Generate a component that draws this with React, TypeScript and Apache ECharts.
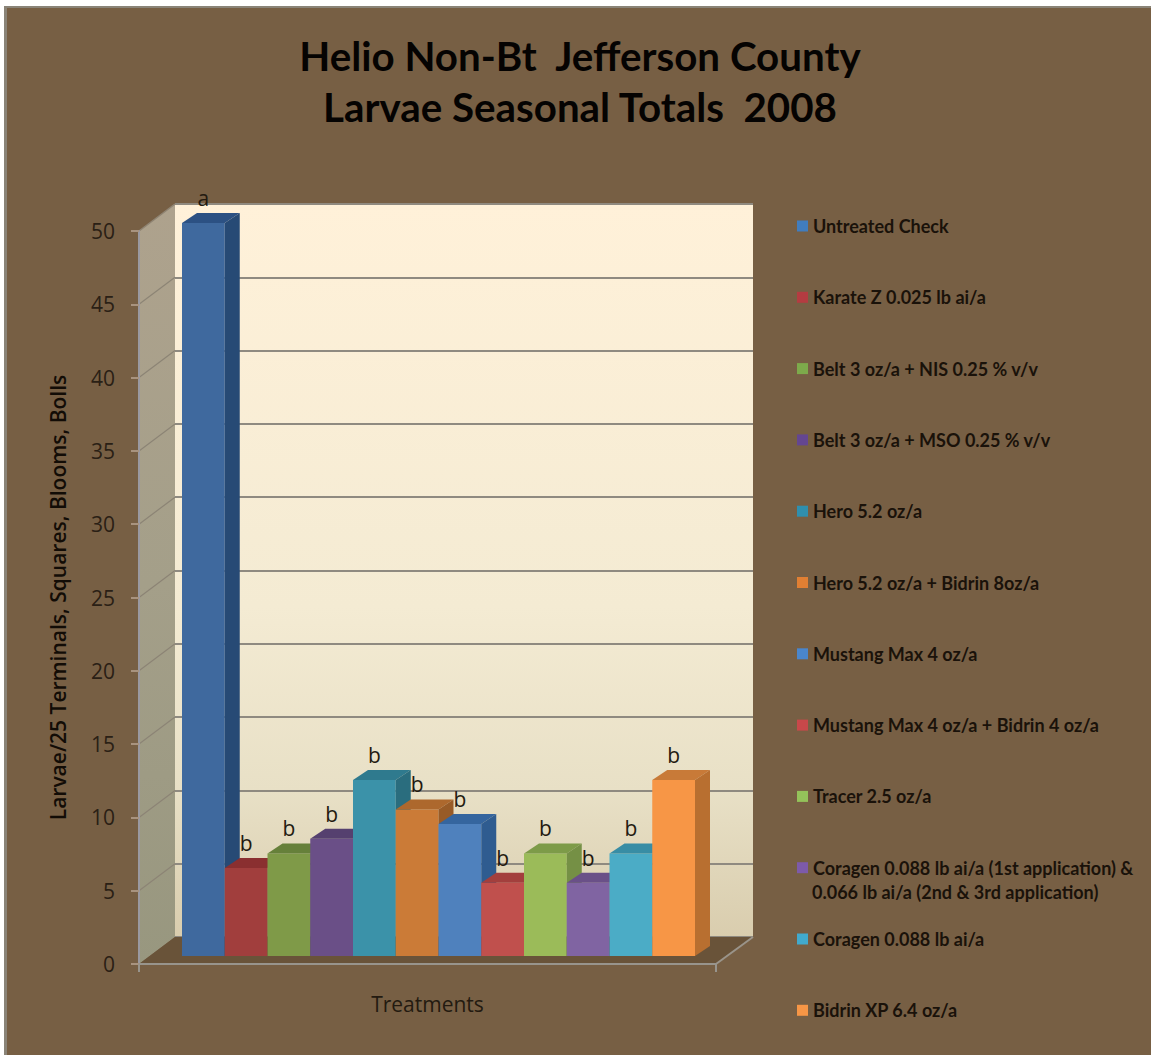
import React, { useEffect, useRef } from "react";
import * as echarts from "echarts";

const titleText = "Helio Non-Bt  Jefferson County\nLarvae Seasonal Totals  2008";
const yAxisName = "Larvae/25 Terminals, Squares, Blooms, Bolls";
const xAxisName = "Treatments";
const treatments = [
  "Untreated Check",
  "Karate Z 0.025 lb ai/a",
  "Belt 3 oz/a + NIS 0.25 % v/v",
  "Belt 3 oz/a + MSO 0.25 % v/v",
  "Hero 5.2 oz/a",
  "Hero 5.2 oz/a + Bidrin 8oz/a",
  "Mustang Max 4 oz/a",
  "Mustang Max 4 oz/a + Bidrin 4 oz/a",
  "Tracer 2.5 oz/a",
  "Coragen 0.088 lb ai/a (1st application) &\n0.066 lb ai/a (2nd & 3rd application)",
  "Coragen 0.088 lb ai/a",
  "Bidrin XP 6.4 oz/a",
];
const values = [50, 6, 7, 8, 12, 10, 9, 5, 7, 5, 7, 12];
const letters = ["a", "b", "b", "b", "b", "b", "b", "b", "b", "b", "b", "b"];
const yTicks = [0, 5, 10, 15, 20, 25, 30, 35, 40, 45, 50];
const frontColors = ["#3F699E", "#A13E3D", "#7F9A48", "#6A4F87", "#3B92A9", "#CB7B37", "#4F81BD", "#C0504D", "#9BBB59", "#8064A2", "#4BACC6", "#F79646"];
const sideColors = ["#274A75", "#7A2C2B", "#5F7335", "#4E3A64", "#2A6D7E", "#985B27", "#2F5C90", "#943A38", "#759045", "#604A7B", "#338196", "#B86F30"];
const topColors = ["#2C5183", "#8A2F30", "#66803A", "#55406F", "#2F7A8E", "#AD682D", "#35659E", "#A33F3D", "#7D9B48", "#6A5088", "#388DA5", "#C87A38"];
const legendColors = ["#417DBE", "#B43C41", "#7DAA4B", "#644691", "#2F8FAE", "#E07F33", "#4A86CC", "#C8484A", "#94C25A", "#7D5AAA", "#41AACD", "#F79646"];

const BG = "#775F44";
const DEPTH_X = 36;
const DEPTH_Y = 27;
const TOP_X = 15;
const TOP_Y = 10;

const poly = (points: number[][], style: any) => ({ type: "polygon", shape: { points }, style });

const renderWall = (params: any, api: any) => {
  const tick = api.value(0);
  const [, y] = api.coord([0, tick]);
  const cs = params.coordSys;
  const children: any[] = [];
  if (params.dataIndex === 0) {
    const left = cs.x;
    const right = cs.x + cs.width;
    const top = cs.y;
    const bottom = cs.y + cs.height;
    children.push(
      poly(
        [[left, top], [left + DEPTH_X, top - DEPTH_Y], [left + DEPTH_X, bottom - DEPTH_Y], [left, bottom]],
        {
          fill: new echarts.graphic.LinearGradient(0, 0, 0, 1, [
            { offset: 0, color: "#AEA28D" },
            { offset: 0.5, color: "#A49F89" },
            { offset: 1, color: "#98977F" },
          ]),
        }
      ),
      poly(
        [[left, bottom], [right, bottom], [right + DEPTH_X + 1, bottom - DEPTH_Y], [left + DEPTH_X, bottom - DEPTH_Y]],
        { fill: "#695339" }
      ),
      {
        type: "line",
        shape: { x1: right, y1: bottom, x2: right + DEPTH_X + 1, y2: bottom - DEPTH_Y },
        style: { stroke: "#9A948A", lineWidth: 2 },
      },
      {
        type: "line",
        shape: { x1: left, y1: top, x2: left + DEPTH_X, y2: top - DEPTH_Y },
        style: { stroke: "#8F8473", lineWidth: 1.5 },
      }
    );
  }
  const cx = cs.x;
  if (tick > 0 && tick < 50) {
    children.push({
      type: "line",
      shape: { x1: cx, y1: y, x2: cx + DEPTH_X, y2: y - DEPTH_Y },
      style: { stroke: "#8C8475", lineWidth: 1.2 },
    });
  }
  return { type: "group", children };
};

const renderBar = (i: number) => (_params: any, api: any) => {
  const v = api.value(1);
  const [cx, y] = api.coord([i, v]);
  const [, base] = api.coord([i, 0]);
  const w = api.size([1, 0])[0];
  const x0 = cx - w / 2;
  const x1 = cx + w / 2;
  return {
    type: "group",
    children: [
      { type: "rect", shape: { x: x0, y, width: w, height: base - y }, style: { fill: frontColors[i] } },
      poly([[x0, y], [x1, y], [x1 + TOP_X, y - TOP_Y], [x0 + TOP_X, y - TOP_Y]], { fill: topColors[i] }),
      poly([[x1, y], [x1 + TOP_X, y - TOP_Y], [x1 + TOP_X, base - TOP_Y], [x1, base]], { fill: sideColors[i] }),
      {
        type: "text",
        x: cx,
        y: y - 25,
        style: {
          text: letters[i],
          fontFamily: "Open Sans",
          fontSize: 21,
          fill: "#231A10",
          align: "center",
          verticalAlign: "middle",
        },
      },
    ],
  };
};

const legendFirstLine = (name: string) => name.split("\n")[0];

export default function App() {
  const ref = useRef<HTMLDivElement>(null);
  useEffect(() => {
    const chart = echarts.init(ref.current!, null, { renderer: "svg" });
    const secondLine = treatments[9].split("\n")[1];
    chart.setOption({
      animation: false,
      backgroundColor: "#FFFFFF",
      title: {
        text: titleText,
        left: 575,
        top: 25,
        textAlign: "center",
        textStyle: { fontFamily: "Lato", fontWeight: "bold", fontSize: 40.3, lineHeight: 51, color: "#050302" },
      },
      legend: {
        orient: "vertical",
        left: 797,
        top: 217,
        height: 830,
        padding: 0,
        icon: "rect",
        itemWidth: 11,
        itemHeight: 11,
        itemGap: 53.3,
        selectedMode: false,
        data: treatments,
        formatter: legendFirstLine,
        textStyle: { fontFamily: "Lato", fontSize: 18, fontWeight: "bold", lineHeight: 18, color: "#1A120A" },
      },
      graphic: [
        { type: "rect", z: -10, shape: { x: 4, y: 6, width: 1147, height: 1049 }, style: { fill: "#8A8478" } },
        { type: "rect", z: -9, shape: { x: 7, y: 8, width: 1144, height: 1047 }, style: { fill: BG } },
        {
          type: "text",
          x: 812,
          y: 892,
          style: { text: secondLine, fontFamily: "Lato", fontSize: 18, fontWeight: "bold", fill: "#1A120A", verticalAlign: "middle" },
        },
      ],
      grid: [
        { left: 139, top: 231, width: 577, height: 733, containLabel: false },
        { left: 182, top: 223, width: 513, height: 733 },
        {
          show: true,
          left: 175,
          top: 204,
          width: 578,
          height: 733,
          borderWidth: 0,
          backgroundColor: new echarts.graphic.LinearGradient(0, 0, 0, 1, [
            { offset: 0, color: "#FFF1D9" },
            { offset: 0.55, color: "#F4EBD3" },
            { offset: 0.8, color: "#E8E0C6" },
            { offset: 1, color: "#D9CDAE" },
          ]),
        },
      ],
      xAxis: [
        {
          gridIndex: 0,
          type: "category",
          data: [""],
          name: xAxisName,
          nameLocation: "middle",
          nameGap: 29,
          nameTextStyle: { fontFamily: "Open Sans", fontSize: 21, color: "#231A10" },
          z: 5,
          axisLine: { lineStyle: { color: "#98948C", width: 2 } },
          axisTick: { show: true, length: 8, alignWithLabel: false, lineStyle: { color: "#98948C", width: 2 } },
          axisLabel: { show: false },
          splitLine: { show: false },
        },
        { gridIndex: 1, type: "category", data: treatments, show: false },
        { gridIndex: 2, type: "category", data: [""], show: false },
      ],
      yAxis: [
        {
          gridIndex: 0,
          type: "value",
          min: 0,
          max: 50,
          interval: 5,
          name: yAxisName,
          nameLocation: "middle",
          nameGap: 71,
          nameTextStyle: { fontFamily: "Open Sans", fontWeight: 600, fontSize: 21, color: "#120C06" },
          z: 5,
          axisLine: { show: true, lineStyle: { color: "#9A99A0", width: 2 } },
          axisTick: { show: true, length: 8, lineStyle: { color: "#A8937F", width: 2 } },
          axisLabel: { fontFamily: "Open Sans", fontSize: 21, color: "#2A2015", margin: 24 },
          splitLine: { show: false },
        },
        { gridIndex: 1, type: "value", min: 0, max: 50, interval: 5, show: false, splitLine: { show: false } },
        {
          gridIndex: 2,
          type: "value",
          min: 0,
          max: 50,
          interval: 5,
          axisLine: { show: false },
          axisTick: { show: false },
          axisLabel: { show: false },
          splitLine: { show: true, lineStyle: { color: "#8F8A80", width: 2 } },
        },
      ],
      series: [
        {
          name: "walls",
          type: "custom",
          coordinateSystem: "cartesian2d",
          xAxisIndex: 0,
          yAxisIndex: 0,
          z: 1,
          clip: false,
          silent: true,
          data: yTicks.map((t) => [t]),
          encode: { y: 0 },
          renderItem: renderWall,
        },
        ...treatments.map((name, i) => ({
          name,
          type: "custom",
          coordinateSystem: "cartesian2d",
          xAxisIndex: 1,
          yAxisIndex: 1,
          z: 3,
          clip: false,
          itemStyle: { color: legendColors[i] },
          data: [[i, values[i]]],
          encode: { x: 0, y: 1 },
          renderItem: renderBar(i),
        })),
      ],
    });
    return () => chart.dispose();
  }, []);
  return <div ref={ref} style={{ position: "absolute", left: 0, top: 0, width: 1151, height: 1055 }} />;
}
